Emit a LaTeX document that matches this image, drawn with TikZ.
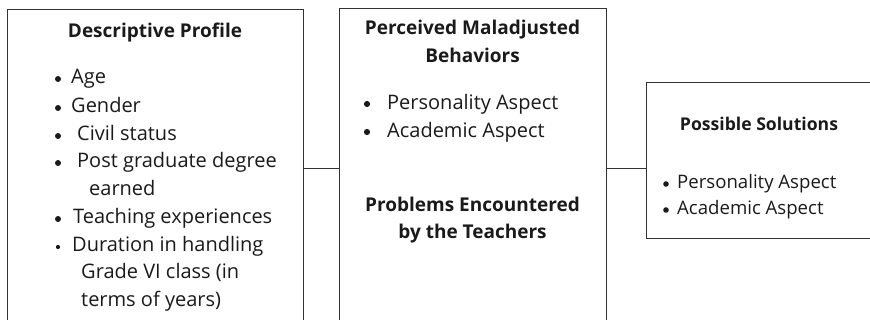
\documentclass[tikz,border=0pt]{standalone}
\usepackage{fontspec}
\setmainfont{Open Sans}
\usetikzlibrary{positioning}
\definecolor{linegray}{HTML}{333333}
\definecolor{inkgray}{HTML}{1A1A1A}
\tikzset{
  panel/.style={draw=linegray, line width=0.9pt, inner sep=0pt},
  head/.style={font=\bfseries\fontsize{19}{23}\selectfont, text=inkgray, anchor=base, inner sep=0pt},
  item/.style={font=\fontsize{20}{24}\selectfont, text=inkgray, anchor=base west, inner sep=0pt},
  smallitem/.style={item, font=\fontsize{18.6}{22}\selectfont},
  link/.style={draw=linegray, line width=0.9pt},
}

\begin{document}
\begin{tikzpicture}[x=1pt, y=-1pt]
    \useasboundingbox (0,0) rectangle (870,320);
    \clip (0,0) rectangle (870,320);
    % the three panels
    \node[panel, minimum width=296pt, minimum height=318pt] (profile) at (155,168) {};
    \node[panel, minimum width=267pt, minimum height=320pt] (behav) at (472.5,168) {};
    \node[panel, minimum width=244pt, minimum height=156pt] (solve) at (768,160) {};
    \draw[link] (profile.east) -- (profile.east -| behav.west);
    \draw[link] (behav.east) -- (behav.east -| solve.west);
    % descriptive profile
    \node[head] (profhead) at (155,38) {Descriptive Profile};
    \foreach \y/\x/\t in {84/71/{Age}, 113/71/{Gender}, 141/77/{Civil status},
        168/77/{Post graduate degree}, 196/89/{earned}, 224/73/{Teaching experiences},
        252/72/{Duration in handling}, 279/81/{Grade VI class (in}, 307/81/{terms of years)}}
        \node[item] (prof\y) at (\x,\y) {\t};
    \foreach \y in {84,113,141,168,224}
        \fill[inkgray] (58,\y-5) circle (3pt);
    \fill[inkgray] (58,252-5) circle (2.1pt);
    % maladjusted behaviors and problems
    \node[head] (behhead) at (472.5,35) {Perceived Maladjusted};
    \node[head] (behhead2) at (472.5,63) {Behaviors};
    \node[item] (behpers) at (387,110) {Personality Aspect};
    \node[item] (behacad) at (387,138) {Academic Aspect};
    \foreach \y in {110,138}
        \fill[inkgray] (367,\y-6) circle (3.1pt);
    \node[head] (probhead) at (472.5,212) {Problems Encountered};
    \node[head] (probhead2) at (472.5,239) {by the Teachers};
    % possible solutions
    \node[head, font=\bfseries\fontsize{17.6}{21}\selectfont] (solhead) at (759,131) {Possible Solutions};
    \node[smallitem] (solpers) at (677,189) {Personality Aspect};
    \node[smallitem] (solacad) at (677,215) {Academic Aspect};
    \foreach \y in {189,215}
        \fill[inkgray] (666,\y-5) circle (2.8pt);
\end{tikzpicture}
\end{document}
